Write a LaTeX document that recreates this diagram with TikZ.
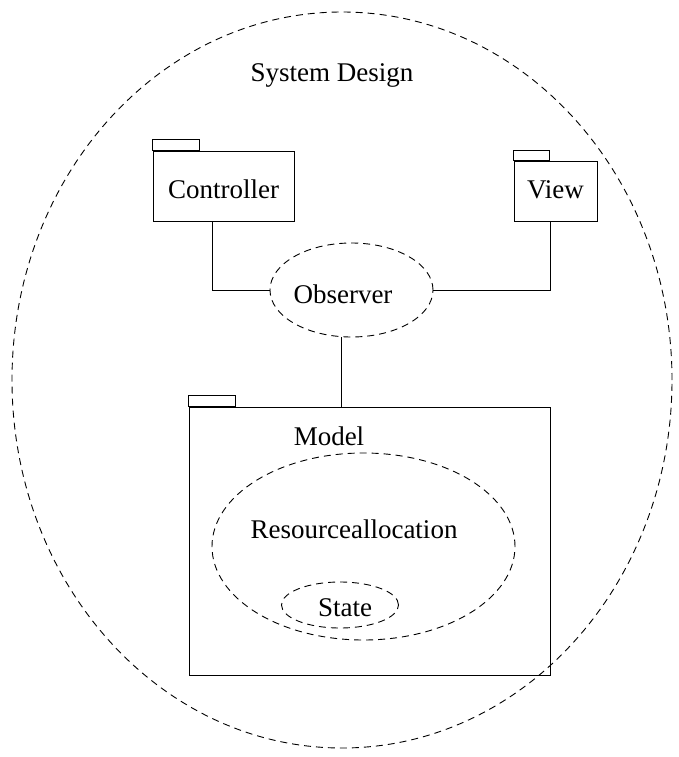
\documentclass[tikz,border=0pt]{standalone}
\usepackage{fontspec}
\setmainfont{Liberation Serif}
\usetikzlibrary{shapes.geometric}
\begin{document}
\begin{tikzpicture}[x=1pt,y=-1pt,
  lbl/.style={font=\fontsize{27}{30}\selectfont, inner sep=0pt},
  pkg/.style={draw, line width=0.9pt, inner sep=0pt},
  tabbox/.style={draw, line width=0.9pt},
  dashedell/.style={ellipse, draw, line width=0.9pt, dash pattern=on 7pt off 5pt, inner sep=0pt},
  wire/.style={line width=0.9pt}]
\useasboundingbox (0,0) rectangle (679,757);

% outer system boundary
\node[dashedell, minimum width=660pt, minimum height=736pt] (sys) at (342,380) {};
\node[lbl] (systitle) at (332,75) {System Design};

% Controller package
\node[pkg, minimum width=141pt, minimum height=70pt] (ctrl) at (223.5,186) {};
\draw[tabbox] (ctrl.north west) rectangle ++(47,-11);
\node[lbl] (ctrllabel) at (223.5,189) {Controller};

% View package
\node[pkg, minimum width=83pt, minimum height=60pt] (view) at (555.5,191) {};
\draw[tabbox] (view.north west) rectangle ++(36,-10);
\node[lbl] (viewlabel) at (555.5,190) {View};

% Observer
\node[dashedell, minimum width=163pt, minimum height=94pt] (obs) at (351.5,290) {};
\node[lbl] (obslabel) at (343,294) {Observer};

% Model package
\node[pkg, minimum width=361pt, minimum height=268pt] (model) at (369.5,541) {};
\draw[tabbox] (model.north west) rectangle ++(47,-11);
\node[lbl] (modellabel) at (329,436) {Model};

% Resource allocation and state
\node[dashedell, minimum width=303pt, minimum height=187pt] (res) at (363.5,546.5) {};
\node[lbl] (reslabel) at (354,529) {Resourceallocation};
\node[dashedell, minimum width=117pt, minimum height=46pt] (state) at (340,605) {};
\node[lbl] (statelabel) at (345,608) {State};

% connectors
\draw[wire] ([xshift=-11.5pt]ctrl.south) |- (obs.west);
\draw[wire] ([xshift=-5.5pt]view.south) |- (obs.east);
\draw[wire] ([xshift=-10pt]obs.south) -- ([xshift=-10pt]obs.south |- model.north);
\end{tikzpicture}
\end{document}
